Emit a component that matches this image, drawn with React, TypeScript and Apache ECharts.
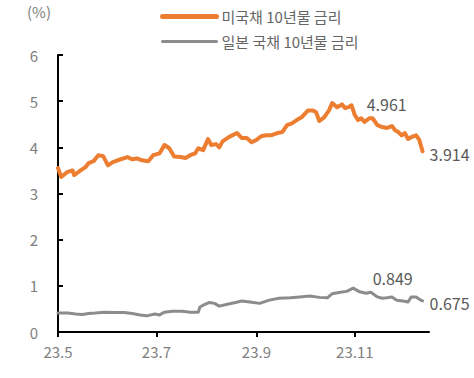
import React, { useEffect, useRef } from 'react';
import * as echarts from 'echarts';

// Category range (calendar days, 2023)
const startDate = [2023, 5, 1];
const endDate = [2023, 12, 17];

const seriesNames = ['미국채 10년물 금리', '일본 국채 10년물 금리'];
const unitLabel = '(%)';

const usDates = ['5/1','5/3','5/7','5/10','5/11','5/15','5/18','5/20','5/23','5/26','5/29','6/1','6/4','6/7','6/13','6/16','6/19','6/22','6/26','6/29','7/3','7/6','7/9','7/12','7/16','7/19','7/22','7/25','7/27','7/30','8/2','8/4','8/7','8/9','8/11','8/14','8/17','8/20','8/23','8/26','8/29','9/1','9/4','9/7','9/10','9/14','9/17','9/20','9/23','9/26','9/29','10/3','10/6','10/8','10/10','10/13','10/16','10/18','10/21','10/24','10/26','10/28','10/30','11/1','11/3','11/5','11/7','11/10','11/12','11/15','11/18','11/21','11/24','11/26','11/28','11/30','12/2','12/4','12/6','12/9','12/11','12/13'];
const usValues = [3.55,3.36,3.47,3.50,3.40,3.50,3.57,3.66,3.70,3.83,3.81,3.61,3.68,3.72,3.79,3.74,3.76,3.72,3.70,3.83,3.87,4.05,3.98,3.80,3.79,3.77,3.83,3.87,3.98,3.94,4.18,4.05,4.07,4.00,4.13,4.20,4.26,4.31,4.20,4.20,4.11,4.16,4.24,4.26,4.26,4.31,4.33,4.48,4.52,4.59,4.65,4.80,4.80,4.76,4.57,4.65,4.80,4.961,4.87,4.93,4.85,4.87,4.91,4.70,4.59,4.63,4.55,4.63,4.63,4.48,4.44,4.42,4.46,4.37,4.33,4.26,4.31,4.18,4.22,4.26,4.16,3.914];

const jpDates = ['5/1','5/7','5/12','5/16','5/20','5/24','5/30','6/5','6/11','6/16','6/21','6/25','6/30','7/3','7/6','7/11','7/17','7/22','7/27','7/28','7/30','8/3','8/6','8/9','8/14','8/19','8/23','8/28','9/3','9/9','9/15','9/22','9/28','10/4','10/10','10/15','10/18','10/23','10/27','10/31','11/4','11/8','11/11','11/15','11/18','11/21','11/24','11/27','12/1','12/4','12/6','12/9','12/12','12/13'];
const jpValues = [0.41,0.41,0.39,0.38,0.40,0.41,0.43,0.42,0.42,0.40,0.37,0.35,0.39,0.37,0.43,0.45,0.45,0.43,0.43,0.54,0.58,0.64,0.62,0.56,0.60,0.64,0.67,0.65,0.62,0.69,0.73,0.74,0.76,0.78,0.75,0.74,0.83,0.86,0.88,0.95,0.87,0.84,0.86,0.76,0.73,0.74,0.76,0.69,0.67,0.65,0.76,0.76,0.69,0.675];

const usPeak = { date: '10/18', value: 4.961, label: '4.961' };
const jpPeak = { date: '10/31', value: 0.95, label: '0.849' };
const endLabels = ['3.914', '0.675'];

const yTicks = { min: 0, max: 6, interval: 1 };

function buildCategories(): string[] {
  const out: string[] = [];
  const d = new Date(Date.UTC(startDate[0], startDate[1] - 1, startDate[2]));
  const e = new Date(Date.UTC(endDate[0], endDate[1] - 1, endDate[2]));
  while (d.getTime() <= e.getTime()) {
    out.push(`${d.getUTCMonth() + 1}/${d.getUTCDate()}`);
    d.setUTCDate(d.getUTCDate() + 1);
  }
  return out;
}

const isOddMonthStart = (value: string) => {
  const [m, d] = value.split('/');
  return d === '1' && Number(m) % 2 === 1;
};

const FONT = "'Noto Sans CJK KR', 'Noto Sans', sans-serif";
const ORANGE = '#ED7D31';
const GRAY = '#8C8C8C';

export default function App() {
  const ref = useRef<HTMLDivElement>(null);
  useEffect(() => {
    if (!ref.current) return;
    const chart = echarts.init(ref.current, null, { renderer: 'svg' });
    const categories = buildCategories();
    const usData = usDates.map((d, i) => [d, usValues[i]]);
    const jpData = jpDates.map((d, i) => [d, jpValues[i]]);
    chart.setOption({
      animation: false,
      textStyle: { fontFamily: FONT },
      grid: { left: 58, right: 45, top: 55, bottom: 46 },
      legend: {
        orient: 'vertical',
        left: 155,
        top: 4,
        itemWidth: 54,
        itemHeight: 16,
        itemGap: 10,
        itemTextGap: 6,
        itemStyle: { opacity: 0 },
        textStyle: { fontSize: 15, color: '#666666', fontFamily: FONT },
        data: [
          { name: seriesNames[0], lineStyle: { width: 5, color: ORANGE, cap: 'round' } },
          { name: seriesNames[1], lineStyle: { width: 3, color: GRAY, cap: 'round' } },
        ],
      },
      graphic: [
        {
          type: 'text',
          left: 27,
          top: 4,
          style: { text: unitLabel, fontSize: 15, fill: '#7f7f7f', fontFamily: FONT },
        },
      ],
      xAxis: {
        type: 'category',
        data: categories,
        boundaryGap: false,
        axisLine: { lineStyle: { color: '#000', width: 2 } },
        axisTick: {
          show: true,
          interval: (i: number, v: string) => isOddMonthStart(v),
          length: 5,
          lineStyle: { color: '#000', width: 2 },
        },
        axisLabel: {
          interval: (i: number, v: string) => isOddMonthStart(v),
          formatter: (v: string) => `23.${v.split('/')[0]}`,
          fontSize: 15,
          color: '#7f7f7f',
          margin: 12,
          fontFamily: FONT,
        },
        splitLine: { show: false },
      },
      yAxis: {
        type: 'value',
        min: yTicks.min,
        max: yTicks.max,
        interval: yTicks.interval,
        axisLine: { show: true, lineStyle: { color: '#000', width: 2 } },
        axisTick: { show: true, inside: true, length: 5, lineStyle: { color: '#000', width: 2 } },
        axisLabel: { fontSize: 15, color: '#7f7f7f', margin: 20, fontFamily: FONT },
        splitLine: { show: false },
      },
      series: [
        {
          name: seriesNames[0],
          type: 'line',
          data: usData,
          symbol: 'none',
          lineStyle: { color: ORANGE, width: 4, cap: 'round', join: 'round' },
          itemStyle: { color: ORANGE },
          z: 3,
          endLabel: {
            show: true,
            formatter: () => endLabels[0],
            distance: 7,
            offset: [0, 3],
            fontSize: 16,
            color: '#595959',
            fontFamily: FONT,
          },
          markPoint: {
            symbol: 'circle',
            symbolSize: 1,
            itemStyle: { color: 'rgba(0,0,0,0)' },
            data: [
              {
                coord: [usPeak.date, usPeak.value],
                label: {
                  show: true,
                  formatter: usPeak.label,
                  position: 'right',
                  distance: 34,
                  offset: [0, 1],
                  fontSize: 16,
                  color: '#595959',
                  fontFamily: FONT,
                },
              },
            ],
          },
        },
        {
          name: seriesNames[1],
          type: 'line',
          data: jpData,
          symbol: 'none',
          lineStyle: { color: GRAY, width: 3, cap: 'round', join: 'round' },
          itemStyle: { color: GRAY },
          z: 2,
          endLabel: {
            show: true,
            formatter: () => endLabels[1],
            distance: 7,
            offset: [0, 2],
            fontSize: 16,
            color: '#595959',
            fontFamily: FONT,
          },
          markPoint: {
            symbol: 'circle',
            symbolSize: 1,
            itemStyle: { color: 'rgba(0,0,0,0)' },
            data: [
              {
                coord: [jpPeak.date, jpPeak.value],
                label: {
                  show: true,
                  formatter: jpPeak.label,
                  position: 'right',
                  distance: 19,
                  offset: [0, -10],
                  fontSize: 16,
                  color: '#595959',
                  fontFamily: FONT,
                },
              },
            ],
          },
        },
      ],
    });
    return () => chart.dispose();
  }, []);
  return (
    <div
      ref={ref}
      style={{ position: 'fixed', left: 0, top: 0, width: 474, height: 378, background: '#fff' }}
    />
  );
}
